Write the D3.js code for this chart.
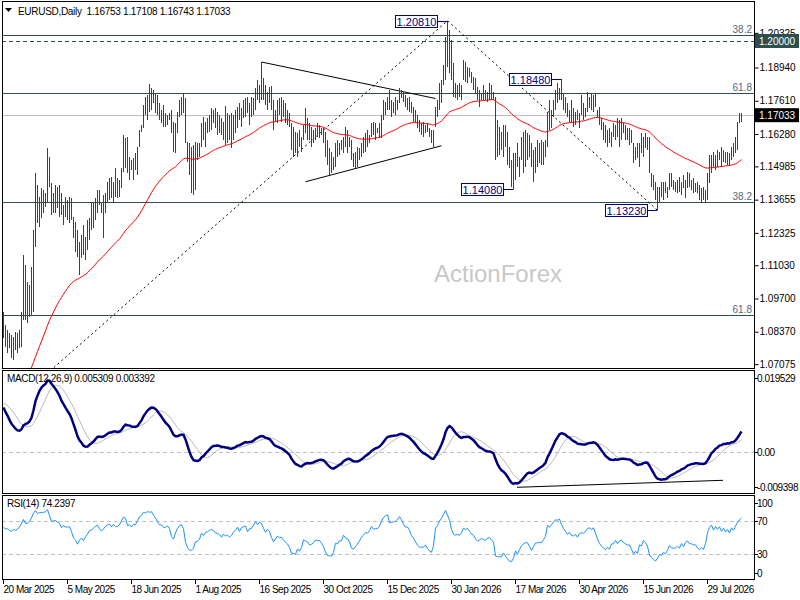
<!DOCTYPE html>
<html>
<head>
<meta charset="utf-8">
<script src="https://cdn.jsdelivr.net/npm/d3@7"></script>
<style>
body { margin: 0; background: #fff; }
svg text { font-family: "Liberation Sans", Arial, sans-serif; }
</style>
</head>
<body>
<script>
// daily bars, 20 Mar 2025 .. 21 Aug 2026 (370 bars)
var highs = [
1.0916,1.0864,1.0844,1.0832,1.0824,1.0816,1.0836,1.0832,1.0844,1.0916,
1.1144,1.1104,1.1036,1.1024,1.1096,1.1244,1.1472,1.1424,1.1376,1.1412,
1.1404,1.1392,1.1572,1.1536,1.1432,1.1392,1.1424,1.1416,1.1424,1.1392,
1.1344,1.1376,1.1364,1.1376,1.1372,1.1296,1.1276,1.1244,1.1196,1.1224,
1.1264,1.1216,1.1284,1.1292,1.1356,1.1356,1.1372,1.1404,1.1404,1.1356,
1.1384,1.1392,1.1436,1.1452,1.1456,1.1436,1.1492,1.1452,1.1444,1.1492,
1.1624,1.1612,1.1616,1.1536,1.1524,1.1532,1.1552,1.1576,1.1644,1.1664,
1.1744,1.1776,1.1784,1.1828,1.1812,1.1804,1.1792,1.1784,1.1752,1.1724,
1.1744,1.1712,1.1704,1.1712,1.1724,1.1676,1.1672,1.1716,1.1764,1.1776,
1.1788,1.1772,1.1596,1.1592,1.1576,1.1584,1.1596,1.1592,1.1592,1.1672,
1.1696,1.1676,1.1692,1.1704,1.1732,1.1724,1.1732,1.1716,1.1704,1.1692,
1.1676,1.1740,1.1712,1.1704,1.1712,1.1704,1.1724,1.1736,1.1752,1.1732,
1.1764,1.1772,1.1776,1.1752,1.1776,1.1772,1.1812,1.1844,1.1824,1.1916,
1.1852,1.1824,1.1796,1.1816,1.1820,1.1764,1.1724,1.1764,1.1772,1.1776,
1.1764,1.1752,1.1724,1.1712,1.1672,1.1656,1.1636,1.1632,1.1644,1.1616,
1.1664,1.1732,1.1692,1.1672,1.1656,1.1644,1.1652,1.1672,1.1664,1.1652,
1.1652,1.1636,1.1604,1.1572,1.1556,1.1536,1.1592,1.1604,1.1592,1.1604,
1.1616,1.1656,1.1644,1.1616,1.1604,1.1552,1.1556,1.1576,1.1572,1.1592,
1.1616,1.1632,1.1644,1.1624,1.1672,1.1676,1.1672,1.1652,1.1672,1.1704,
1.1764,1.1756,1.1776,1.1804,1.1764,1.1756,1.1776,1.1764,1.1812,1.1804,
1.1796,1.1784,1.1772,1.1776,1.1756,1.1736,1.1724,1.1704,1.1684,1.1672,
1.1676,1.1664,1.1672,1.1652,1.1644,1.1644,1.1736,1.1764,1.1832,1.1844,
1.1904,1.2016,1.2081,1.2044,1.2004,1.1912,1.1832,1.1824,1.1832,1.1824,
1.1924,1.1916,1.1896,1.1892,1.1876,1.1856,1.1852,1.1816,1.1804,1.1792,
1.1824,1.1804,1.1796,1.1832,1.1824,1.1796,1.1776,1.1684,1.1656,1.1636,
1.1664,1.1664,1.1636,1.1576,1.1524,1.1552,1.1552,1.1592,1.1536,1.1616,
1.1636,1.1644,1.1632,1.1624,1.1592,1.1564,1.1576,1.1604,1.1592,1.1604,
1.1596,1.1604,1.1716,1.1764,1.1724,1.1764,1.1804,1.1832,1.1812,1.1848,
1.1792,1.1776,1.1752,1.1724,1.1764,1.1732,1.1716,1.1724,1.1712,1.1784,
1.1752,1.1732,1.1796,1.1776,1.1792,1.1784,1.1792,1.1724,1.1736,1.1692,
1.1676,1.1664,1.1644,1.1652,1.1636,1.1672,1.1664,1.1692,1.1684,1.1692,
1.1672,1.1664,1.1652,1.1652,1.1644,1.1592,1.1576,1.1592,1.1592,1.1632,
1.1616,1.1632,1.1616,1.1616,1.1472,1.1464,1.1436,1.1416,1.1416,1.1436,
1.1436,1.1436,1.1416,1.1472,1.1472,1.1444,1.1436,1.1444,1.1456,1.1436,
1.1464,1.1444,1.1476,1.1472,1.1444,1.1452,1.1432,1.1436,1.1424,1.1412,
1.1416,1.1404,1.1472,1.1544,1.1544,1.1556,1.1544,1.1564,1.1556,1.1576,
1.1564,1.1556,1.1556,1.1552,1.1576,1.1592,1.1616,1.1676,1.1712,1.17108
];
var lows = [
1.0812,1.0776,1.0752,1.0772,1.0732,1.0724,1.0764,1.0752,1.0772,1.0776,
1.0884,1.0884,1.0872,1.0896,1.0904,1.0916,1.1176,1.1272,1.1256,1.1292,
1.1312,1.1336,1.1352,1.1416,1.1304,1.1312,1.1312,1.1332,1.1296,1.1304,
1.1264,1.1296,1.1284,1.1272,1.1284,1.1212,1.1156,1.1136,1.1064,1.1132,
1.1144,1.1124,1.1164,1.1204,1.1244,1.1252,1.1284,1.1312,1.1344,1.1312,
1.1212,1.1312,1.1352,1.1364,1.1372,1.1352,1.1376,1.1372,1.1376,1.1412,
1.1476,1.1492,1.1472,1.1444,1.1484,1.1444,1.1484,1.1464,1.1576,1.1636,
1.1652,1.1704,1.1684,1.1716,1.1724,1.1752,1.1712,1.1704,1.1684,1.1672,
1.1656,1.1656,1.1664,1.1684,1.1632,1.1556,1.1552,1.1632,1.1696,1.1704,
1.1712,1.1592,1.1516,1.1464,1.1392,1.1384,1.1404,1.1524,1.1536,1.1576,
1.1604,1.1576,1.1632,1.1636,1.1644,1.1672,1.1652,1.1624,1.1632,1.1624,
1.1604,1.1584,1.1592,1.1604,1.1572,1.1604,1.1632,1.1652,1.1684,1.1656,
1.1692,1.1696,1.1712,1.1664,1.1696,1.1704,1.1724,1.1764,1.1752,1.1764,
1.1764,1.1744,1.1724,1.1752,1.1724,1.1644,1.1676,1.1672,1.1704,1.1676,
1.1696,1.1672,1.1664,1.1656,1.1564,1.1536,1.1552,1.1536,1.1576,1.1556,
1.1604,1.1632,1.1604,1.1604,1.1576,1.1592,1.1604,1.1616,1.1612,1.1624,
1.1592,1.1536,1.1504,1.1464,1.1472,1.1484,1.1496,1.1536,1.1544,1.1564,
1.1552,1.1576,1.1552,1.1576,1.1524,1.1496,1.1492,1.1496,1.1524,1.1536,
1.1552,1.1556,1.1576,1.1592,1.1616,1.1624,1.1604,1.1632,1.1612,1.1612,
1.1684,1.1704,1.1724,1.1724,1.1696,1.1712,1.1704,1.1724,1.1752,1.1772,
1.1756,1.1736,1.1724,1.1716,1.1712,1.1676,1.1672,1.1652,1.1636,1.1624,
1.1616,1.1632,1.1636,1.1616,1.1592,1.1576,1.1656,1.1696,1.1724,1.1752,
1.1824,1.1844,1.1896,1.1872,1.1844,1.1776,1.1772,1.1764,1.1776,1.1764,
1.1844,1.1836,1.1832,1.1856,1.1832,1.1804,1.1792,1.1764,1.1736,1.1764,
1.1764,1.1764,1.1756,1.1764,1.1764,1.1764,1.1524,1.1536,1.1544,1.1564,
1.1536,1.1576,1.1504,1.1492,1.1416,1.1408,1.1444,1.1496,1.1456,1.1524,
1.1472,1.1496,1.1524,1.1536,1.1496,1.1436,1.1472,1.1496,1.1512,1.1504,
1.1504,1.1536,1.1576,1.1644,1.1652,1.1696,1.1724,1.1752,1.1764,1.1764,
1.1724,1.1712,1.1696,1.1676,1.1672,1.1656,1.1664,1.1684,1.1652,1.1704,
1.1684,1.1696,1.1716,1.1732,1.1724,1.1716,1.1736,1.1696,1.1664,1.1644,
1.1604,1.1592,1.1576,1.1592,1.1576,1.1616,1.1604,1.1616,1.1576,1.1604,
1.1632,1.1604,1.1604,1.1584,1.1592,1.1512,1.1524,1.1532,1.1496,1.1552,
1.1536,1.1572,1.1564,1.1472,1.1416,1.1404,1.1364,1.1323,1.1356,1.1376,
1.1364,1.1392,1.1372,1.1404,1.1416,1.1404,1.1396,1.1392,1.1396,1.1384,
1.1412,1.1372,1.1412,1.1416,1.1404,1.1392,1.1396,1.1392,1.1364,1.1356,
1.1364,1.1356,1.1364,1.1432,1.1472,1.1496,1.1484,1.1496,1.1524,1.1496,
1.1516,1.1512,1.1504,1.1504,1.1524,1.1536,1.1552,1.1564,1.1672,1.16743
];
var closes = [
1.0820,1.0800,1.0804,1.0780,1.0772,1.0800,1.0792,1.0808,1.0844,1.0908,
1.0996,1.0956,1.0960,1.1000,1.1080,1.1236,1.1348,1.1316,1.1352,1.1360,
1.1364,1.1384,1.1476,1.1416,1.1352,1.1368,1.1376,1.1360,1.1348,1.1304,
1.1336,1.1324,1.1324,1.1328,1.1284,1.1216,1.1192,1.1136,1.1180,1.1204,
1.1172,1.1216,1.1248,1.1300,1.1304,1.1328,1.1360,1.1376,1.1344,1.1324,
1.1352,1.1384,1.1408,1.1416,1.1396,1.1428,1.1412,1.1412,1.1436,1.1484,
1.1552,1.1544,1.1492,1.1504,1.1488,1.1520,1.1520,1.1568,1.1640,1.1664,
1.1740,1.1736,1.1772,1.1768,1.1780,1.1760,1.1744,1.1720,1.1700,1.1700,
1.1684,1.1684,1.1700,1.1684,1.1632,1.1612,1.1664,1.1708,1.1740,1.1752,
1.1724,1.1600,1.1528,1.1484,1.1484,1.1500,1.1560,1.1564,1.1584,1.1652,
1.1628,1.1664,1.1672,1.1688,1.1700,1.1692,1.1672,1.1668,1.1660,1.1640,
1.1664,1.1652,1.1656,1.1644,1.1656,1.1680,1.1696,1.1720,1.1696,1.1728,
1.1736,1.1744,1.1712,1.1736,1.1740,1.1768,1.1804,1.1788,1.1816,1.1808,
1.1784,1.1760,1.1784,1.1772,1.1732,1.1700,1.1720,1.1740,1.1728,1.1732,
1.1712,1.1696,1.1684,1.1656,1.1596,1.1596,1.1584,1.1612,1.1588,1.1608,
1.1656,1.1648,1.1640,1.1616,1.1620,1.1628,1.1644,1.1640,1.1640,1.1624,
1.1600,1.1556,1.1520,1.1516,1.1512,1.1528,1.1572,1.1568,1.1584,1.1584,
1.1616,1.1600,1.1596,1.1576,1.1532,1.1524,1.1536,1.1548,1.1564,1.1584,
1.1596,1.1612,1.1608,1.1624,1.1652,1.1640,1.1644,1.1644,1.1660,1.1696,
1.1732,1.1752,1.1764,1.1732,1.1736,1.1740,1.1744,1.1760,1.1788,1.1776,
1.1760,1.1748,1.1748,1.1736,1.1712,1.1700,1.1680,1.1660,1.1648,1.1648,
1.1648,1.1656,1.1636,1.1620,1.1612,1.1636,1.1732,1.1756,1.1800,1.1836,
1.1896,1.1988,1.1960,1.1924,1.1852,1.1804,1.1796,1.1804,1.1796,1.1820,
1.1876,1.1864,1.1876,1.1856,1.1832,1.1824,1.1792,1.1772,1.1780,1.1792,
1.1784,1.1776,1.1792,1.1796,1.1780,1.1764,1.1612,1.1600,1.1600,1.1600,
1.1620,1.1576,1.1536,1.1492,1.1480,1.1500,1.1544,1.1496,1.1528,1.1556,
1.1572,1.1580,1.1580,1.1544,1.1500,1.1524,1.1552,1.1552,1.1556,1.1552,
1.1572,1.1596,1.1704,1.1688,1.1720,1.1756,1.1792,1.1788,1.1808,1.1772,
1.1744,1.1724,1.1700,1.1720,1.1696,1.1692,1.1704,1.1684,1.1712,1.1720,
1.1716,1.1732,1.1756,1.1760,1.1752,1.1764,1.1736,1.1700,1.1668,1.1644,
1.1628,1.1612,1.1624,1.1608,1.1636,1.1636,1.1656,1.1632,1.1648,1.1652,
1.1636,1.1628,1.1620,1.1620,1.1592,1.1552,1.1564,1.1544,1.1584,1.1576,
1.1604,1.1592,1.1564,1.1472,1.1436,1.1404,1.1372,1.1388,1.1408,1.1400,
1.1416,1.1396,1.1416,1.1444,1.1424,1.1416,1.1420,1.1428,1.1412,1.1436,
1.1412,1.1436,1.1444,1.1424,1.1424,1.1416,1.1416,1.1396,1.1384,1.1392,
1.1380,1.1404,1.1464,1.1508,1.1528,1.1500,1.1532,1.1516,1.1540,1.1512,
1.1540,1.1516,1.1540,1.1516,1.1564,1.1548,1.1590,1.1640,1.16753,1.17033
];

// one label every 32 bars
var tickLabels = ["20 Mar 2025","5 May 2025","18 Jun 2025","1 Aug 2025","16 Sep 2025","30 Oct 2025",
  "15 Dec 2025","30 Jan 2026","17 Mar 2026","30 Apr 2026","15 Jun 2026","29 Jul 2026"];
var priceTicks = [1.20325,1.18940,1.17610,1.16280,1.14985,1.13655,1.12325,1.11030,1.09700,1.08370,1.07075];
var fibLevels = [1.2022, 1.1792, 1.1355, 1.0904];
var fibNames = ["38.2", "61.8", "38.2", "61.8"];
var roundLevel = 1.2000;

// swing labels: bar index, high or low
var swingBars = [222, 279, 255, 327];
var swingSide = ["high", "high", "low", "low"];

// hand drawn lines: [bar, price]
var zigzag = [[-48, 1.0178], [222, 1.2081], [327, 1.1323]];
var triUpper = [[129, 1.1916], [216, 1.1770]];
var triLower = [[151, 1.1437], [219, 1.1581]];
var macdTrend = [[257, -0.0085], [360, -0.0068]];

// indicator panels
var macdTicks = [0.019529, 0, -0.009398];
var macdShown = [0.005309, 0.003392];
var rsiTicks = [100, 70, 30, 0];
var rsiShown = 74.2397;

// indicator state carried in from before the first bar
var ema55Start = 1.0555, ema12Start = 1.0835, ema26Start = 1.0716;
var macdStart = 0.0121, gainStart = 0.0034, lossStart = 0.0021;

var n = highs.length;
var right = 754;

var svg = d3.select("body").append("svg")
  .attr("width", 800)
  .attr("height", 600);

var xScale = d3.scaleLinear().domain([0, n - 1]).range([3, 3 + 2 * (n - 1)]);
var yScale = d3.scaleLinear().domain([1.0692, 1.2164]).range([368, 0]);
var mScale = d3.scaleLinear().domain([-0.009398, 0.019529]).range([491, 372]);
var rScale = d3.scaleLinear().domain([0, 100]).range([579, 495.7]);

function ema(values, period, start) {
  var k = 2 / (period + 1), prev = start;
  return values.map(function(v) { prev = prev + k * (v - prev); return prev; });
}
var ema55 = ema(closes, 55, ema55Start);
var ema12 = ema(closes, 12, ema12Start);
var ema26 = ema(closes, 26, ema26Start);
var macd = ema12.map(function(v, i) { return v - ema26[i]; });
var signal = macd.map(function(v, i) {
  var s = 0;
  for (var j = i - 8; j <= i; j++) s += j < 0 ? macdStart : macd[j];
  return s / 9;
});
var rsi = [];
var ag = gainStart, al = lossStart;
closes.forEach(function(c, i) {
  if (i > 0) {
    var ch = c - closes[i - 1];
    ag = (ag * 13 + Math.max(ch, 0)) / 14;
    al = (al * 13 + Math.max(-ch, 0)) / 14;
  }
  rsi.push(100 - 100 / (1 + ag / al));
});

// clip areas
var defs = svg.append("defs");
[["clipMain", 1, 368], ["clipMacd", 370, 493], ["clipRsi", 495, 579]].forEach(function(c) {
  defs.append("clipPath").attr("id", c[0]).append("rect")
    .attr("x", 2).attr("y", c[1]).attr("width", right - 2).attr("height", c[2] - c[1]);
});

// ---------- main panel ----------
var main = svg.append("g").attr("clip-path", "url(#clipMain)");

main.append("text")
  .attr("x", 498).attr("y", 282)
  .attr("text-anchor", "middle")
  .attr("font-size", 24)
  .attr("fill", "#c8c8c8")
  .text("ActionForex");

main.selectAll(".fib")
  .data(fibLevels)
  .enter().append("line")
  .attr("x1", 2).attr("x2", right)
  .attr("y1", function(d) { return Math.round(yScale(d)) + 0.5; })
  .attr("y2", function(d) { return Math.round(yScale(d)) + 0.5; })
  .attr("stroke", "#2f4f4f");

main.selectAll(".fibText")
  .data(fibLevels)
  .enter().append("text")
  .attr("x", right - 2)
  .attr("y", function(d) { return Math.round(yScale(d)) - 2; })
  .attr("text-anchor", "end")
  .attr("font-size", 10)
  .attr("fill", "#4f6a80")
  .text(function(d, i) { return fibNames[i]; });

main.append("line")
  .attr("x1", 2).attr("x2", right)
  .attr("y1", Math.round(yScale(roundLevel)) + 0.5)
  .attr("y2", Math.round(yScale(roundLevel)) + 0.5)
  .attr("stroke", "#2f4f4f")
  .attr("stroke-dasharray", "4,3");

var lastClose = closes[n - 1];
main.append("line")
  .attr("x1", 2).attr("x2", right)
  .attr("y1", Math.round(yScale(lastClose)) + 0.5)
  .attr("y2", Math.round(yScale(lastClose)) + 0.5)
  .attr("stroke", "#c0c0c0");

var lineGen = d3.line()
  .x(function(d) { return xScale(d[0]) + 0.5; })
  .y(function(d) { return yScale(d[1]); });

main.append("path")
  .attr("d", lineGen(zigzag))
  .attr("fill", "none")
  .attr("stroke", "#000")
  .attr("stroke-dasharray", "2,3");

[triUpper, triLower].forEach(function(t) {
  main.append("path")
    .attr("d", lineGen(t))
    .attr("fill", "none")
    .attr("stroke", "#000");
});

main.selectAll(".bar")
  .data(d3.range(n))
  .enter().append("rect")
  .attr("x", function(i) { return xScale(i); })
  .attr("y", function(i) { return Math.round(yScale(highs[i])); })
  .attr("width", 1)
  .attr("height", function(i) { return Math.max(1, Math.round(yScale(lows[i])) - Math.round(yScale(highs[i]))); })
  .attr("fill", "#1d4a68")
  .attr("shape-rendering", "crispEdges");

main.append("path")
  .attr("d", d3.line()
    .x(function(d, i) { return xScale(i) + 0.5; })
    .y(function(d) { return yScale(d); })(ema55))
  .attr("fill", "none")
  .attr("stroke", "#ff0000")
  .attr("stroke-width", 1);

// swing labels
swingBars.forEach(function(b, k) {
  var price = swingSide[k] == "high" ? highs[b] : lows[b];
  var py = Math.round(yScale(price)) + 0.5;
  var bx = xScale(b) + 0.5;
  var boxR = bx - 10;
  main.append("line")
    .attr("x1", boxR).attr("x2", bx)
    .attr("y1", py).attr("y2", py)
    .attr("stroke", "#000080");
  main.append("rect")
    .attr("x", boxR - 42).attr("y", py - 6)
    .attr("width", 42).attr("height", 12)
    .attr("fill", "#fff")
    .attr("stroke", "#000080");
  main.append("text")
    .attr("x", boxR - 21).attr("y", py + 4)
    .attr("text-anchor", "middle")
    .attr("font-size", 11)
    .attr("fill", "#000080")
    .text(price.toFixed(5));
});

// ---------- MACD panel ----------
var mg = svg.append("g").attr("clip-path", "url(#clipMacd)");
mg.append("line")
  .attr("x1", 2).attr("x2", right)
  .attr("y1", Math.round(mScale(0)) + 0.5).attr("y2", Math.round(mScale(0)) + 0.5)
  .attr("stroke", "#c0c0c0")
  .attr("stroke-dasharray", "4,3");
mg.append("path")
  .attr("d", d3.line().x(function(d, i) { return xScale(i) + 0.5; }).y(function(d) { return mScale(d); })(signal))
  .attr("fill", "none")
  .attr("stroke", "#b8b8b8");
mg.append("path")
  .attr("d", d3.line().x(function(d, i) { return xScale(i) + 0.5; }).y(function(d) { return mScale(d); })(macd))
  .attr("fill", "none")
  .attr("stroke", "#000080")
  .attr("stroke-width", 2.5);
mg.append("path")
  .attr("d", d3.line().x(function(d) { return xScale(d[0]); }).y(function(d) { return mScale(d[1]); })(macdTrend))
  .attr("fill", "none")
  .attr("stroke", "#000");
svg.append("text")
  .attr("x", 7).attr("y", 382)
  .attr("font-size", 10)
  .attr("letter-spacing", -0.35)
  .text("MACD(12,26,9) " + macdShown[0].toFixed(6) + " " + macdShown[1].toFixed(6));

// ---------- RSI panel ----------
var rg = svg.append("g").attr("clip-path", "url(#clipRsi)");
rg.selectAll(".lvl")
  .data([70, 30])
  .enter().append("line")
  .attr("x1", 2).attr("x2", right)
  .attr("y1", function(d) { return Math.round(rScale(d)) + 0.5; })
  .attr("y2", function(d) { return Math.round(rScale(d)) + 0.5; })
  .attr("stroke", "#c0c0c0")
  .attr("stroke-dasharray", "4,3");
rg.append("path")
  .attr("d", d3.line().x(function(d, i) { return xScale(i) + 0.5; }).y(function(d) { return rScale(d); })(rsi))
  .attr("fill", "none")
  .attr("stroke", "#1e90ff");
svg.append("text")
  .attr("x", 7).attr("y", 507)
  .attr("font-size", 10)
  .attr("letter-spacing", -0.35)
  .text("RSI(14) " + rsiShown.toFixed(4));

// ---------- frames ----------
[[1, 368], [370, 493], [495, 579]].forEach(function(p) {
  svg.append("rect")
    .attr("x", 2.5).attr("y", p[0] + 0.5)
    .attr("width", right - 2).attr("height", p[1] - p[0])
    .attr("fill", "none")
    .attr("stroke", "#000");
});

// header
svg.append("path").attr("d", "M5,8 L12,8 L8.5,12 Z").attr("fill", "#000");
svg.append("text")
  .attr("x", 18).attr("y", 15)
  .attr("font-size", 10)
  .attr("letter-spacing", -0.3)
  .attr("xml:space", "preserve")
  .text("EURUSD,Daily  " + closes[n - 2].toFixed(5) + " " + highs[n - 1].toFixed(5) + " " +
        lows[n - 1].toFixed(5) + " " + closes[n - 1].toFixed(5));

// ---------- right axes ----------
var yAxis = d3.axisRight(yScale)
  .tickValues(priceTicks)
  .tickSize(4)
  .tickFormat(d3.format(".5f"));
var yAxisGroup = svg.append("g")
  .attr("transform", "translate(" + (right + 0.5) + ",0)")
  .call(yAxis);
yAxisGroup.select(".domain").remove();
yAxisGroup.selectAll("text").attr("x", 5).attr("font-size", 10).attr("font-family", "Liberation Sans, Arial");

function axisBox(value, fill) {
  var yy = yScale(value);
  svg.append("rect")
    .attr("x", right + 1).attr("y", yy - 7)
    .attr("width", 44).attr("height", 14)
    .attr("fill", fill);
  svg.append("text")
    .attr("x", right + 5).attr("y", yy + 4)
    .attr("font-size", 10)
    .attr("fill", "#fff")
    .text(value.toFixed(5));
}
axisBox(roundLevel, "#2f4f4f");
axisBox(lastClose, "#000");

function sideLabels(scale, values, top, bottom, fmt) {
  values.forEach(function(v) {
    var yy = Math.min(Math.max(scale(v), top + 8), bottom - 6);
    svg.append("line")
      .attr("x1", right).attr("x2", right + 4)
      .attr("y1", Math.round(yy) + 0.5).attr("y2", Math.round(yy) + 0.5)
      .attr("stroke", "#000");
    svg.append("text")
      .attr("x", right + 3).attr("y", yy + 4)
      .attr("font-size", 10)
      .attr("letter-spacing", -0.45)
      .text(fmt(v));
  });
}
sideLabels(mScale, macdTicks, 370, 493, function(v) { return v == 0 ? "0.00" : v.toFixed(6); });
sideLabels(rScale, rsiTicks, 495, 579, function(v) { return String(v); });

// ---------- time axis ----------
var tickIdx = tickLabels.map(function(d, i) { return i * 32; });
tickIdx.forEach(function(b, k) {
  var xx = xScale(b) + 0.5;
  svg.append("line")
    .attr("x1", xx).attr("x2", xx)
    .attr("y1", 579).attr("y2", 584)
    .attr("stroke", "#000");
  svg.append("text")
    .attr("x", xx).attr("y", 593)
    .attr("font-size", 10)
    .attr("letter-spacing", -0.5)
    .text(tickLabels[k]);
});
</script>
</body>
</html>
